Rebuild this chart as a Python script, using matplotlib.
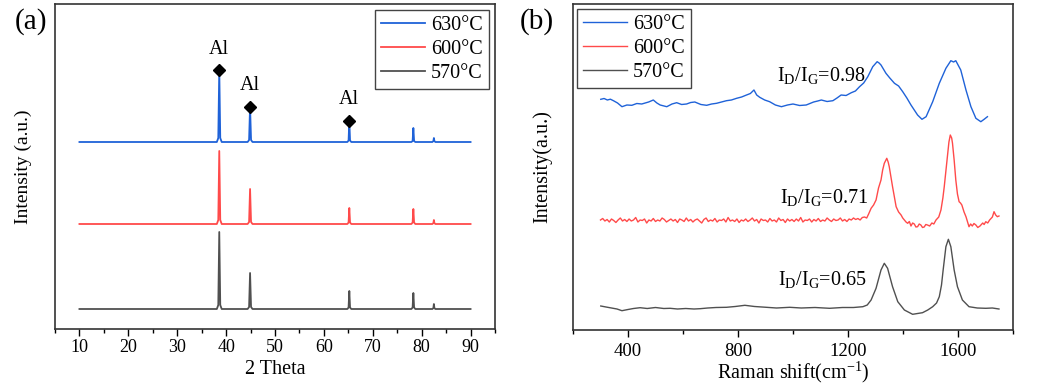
import matplotlib
matplotlib.use("Agg")
import matplotlib.pyplot as plt
from matplotlib.ticker import MultipleLocator

plt.rcParams['font.family'] = ['Liberation Serif', 'DejaVu Serif']
plt.rcParams['mathtext.fontset'] = 'custom'
plt.rcParams['mathtext.rm'] = 'Liberation Serif'
plt.rcParams['mathtext.it'] = 'Liberation Serif:italic'

## ---- (a) XRD patterns (offset intensities, a.u.) ----
xrd_theta = [10, 38.1, 38.4, 38.6, 38.8, 39.1, 44.4, 44.7, 44.9, 45.1, 45.4,
             64.8, 65.05, 65.2, 65.35, 65.6, 77.9, 78.15, 78.3, 78.45, 78.7,
             82.2, 82.4, 82.5, 82.6, 82.8, 90]
xrd_630 = [187, 187, 191, 259, 191, 187, 187, 189, 222, 189, 187,
           187, 188.5, 208, 188.5, 187, 187, 188, 201, 188, 187,
           187, 188, 191, 188, 187, 187]
xrd_600 = [105, 105, 109, 178, 109, 105, 105, 107, 140, 107, 105,
           105, 106.5, 121, 106.5, 105, 105, 106.5, 120, 106.5, 105,
           105, 106, 109, 106, 105, 105]
xrd_570 = [20, 20, 24, 97, 24, 20, 20, 22, 56, 22, 20,
           20, 21.5, 38, 21.5, 20, 20, 21.5, 36, 21.5, 20,
           20, 21, 25, 21, 20, 20]
al_theta = [38.6, 44.9, 65.2]
al_y = [259, 222, 208]

## ---- (b) Raman spectra (offset intensities, a.u.) ----
raman_630_x = [301, 313, 325, 336, 347, 362, 378, 396, 414, 432, 450, 475, 492, 505, 517,
               541, 560, 577, 595, 613, 628, 643, 665, 686, 704, 722, 740, 758, 776, 795,
               813, 831, 845, 858, 868, 879, 897, 915, 936, 958, 980, 1000, 1024, 1048,
               1075, 1090, 1103, 1124, 1145, 1160, 1175, 1193, 1212, 1227, 1242, 1257,
               1272, 1290, 1306, 1313, 1320, 1338, 1352, 1369, 1384, 1399, 1414, 1429,
               1453, 1469, 1484, 1508, 1532, 1556, 1574, 1584, 1592, 1610, 1629, 1647,
               1665, 1683, 1695, 1707]
raman_630_y = [230.7, 231.5, 230, 230.8, 229.3, 227, 223.3, 225, 224.7, 226.5, 226, 228,
               230, 227, 225, 223.3, 226, 227.3, 225.5, 226, 227.5, 228, 225.5, 224.7,
               226, 226.7, 228, 229.3, 230, 231.7, 233, 235, 236.5, 240, 235, 232.7, 230,
               228.3, 225, 223.3, 225, 226, 224.5, 225, 228, 229, 230, 228.5, 229.3,
               232, 235, 234.5, 237.3, 239, 243.3, 247, 253.3, 263.3, 268.3, 267, 265,
               256.7, 252, 246.7, 244, 238.3, 232, 225, 215, 210.7, 213.3, 228.3, 246.7,
               261.7, 269.3, 268, 269.3, 260, 240, 223.3, 211.7, 208.3, 210.7, 213.3]

raman_600_base_x = list(range(300, 1261, 8))
raman_600_base_y = [110, 111.5, 109, 110.5, 108, 111, 109.5, 107.5, 110, 112, 109,
                    110.5, 108.5, 111, 109, 110, 112.5, 108, 110, 109.5, 111, 107,
                    110, 109, 111.5, 108.5, 110, 109, 112, 110.5, 108, 109.5, 111,
                    109, 110.5, 107.5, 111, 110, 108.5, 112, 109, 110.5, 108, 110,
                    111, 109, 107, 110.5, 112, 108.5, 110, 109, 111.5, 108, 110,
                    109.5, 111, 108, 112.5, 109, 110, 108.5, 111, 107.5, 110, 109,
                    111, 108.5, 110, 112, 109, 110.5, 107, 111, 109.5, 110, 108,
                    111.5, 109, 110, 108, 112, 109.5, 110.5, 107.5, 111, 109, 110.5,
                    108.5, 111, 109, 112.5, 108, 110, 109.5, 111, 108, 110.5, 109,
                    111.5, 108.5, 110, 109, 112, 110, 108.5, 111, 109.5, 110, 112,
                    109, 110.5, 108.5, 111, 110, 112, 110.5, 111.5, 110, 112.5, 113]
raman_600_peak_x = [1268, 1275, 1284, 1293, 1302, 1311, 1320, 1326, 1332, 1341, 1346, 1350,
                    1362, 1375, 1384, 1393, 1399, 1405, 1411, 1417, 1423, 1429, 1435, 1441,
                    1447, 1453, 1459, 1465, 1471, 1477, 1483, 1489, 1497, 1505, 1512, 1520,
                    1530, 1538, 1545, 1550, 1560, 1567, 1572, 1577, 1580, 1586, 1592, 1598,
                    1604, 1609, 1614, 1622, 1629, 1640, 1646, 1652, 1658, 1665, 1672, 1680,
                    1690, 1695, 1701, 1708, 1715, 1725, 1731, 1737, 1743, 1749]
raman_600_peak_y = [112, 116, 121.7, 125, 130, 142, 150, 160, 166.7, 171.7, 168, 163.3,
                    143.3, 123.3, 118, 115, 112, 110, 108, 106.7, 108.5, 104, 107, 106,
                    103, 103.3, 106, 105, 102.5, 103, 105.5, 105, 104, 107, 106, 110,
                    113, 120, 132, 143.3, 170, 188, 195, 192, 186.7, 170, 150, 136,
                    128.3, 127, 125, 118, 113.3, 103.3, 106, 104, 106.5, 105, 102.5, 104,
                    107, 105.5, 108.3, 107, 110, 113, 118.3, 115, 113.3, 114]
raman_600_x = raman_600_base_x + raman_600_peak_x
raman_600_y = raman_600_base_y + raman_600_peak_y

raman_570_x = [301, 320, 340, 360, 378, 400, 420, 444, 470, 500, 530, 553, 580, 610,
               640, 662, 690, 720, 758, 790, 825, 860, 903, 940, 988, 1030, 1080, 1133,
               1180, 1220, 1254, 1270, 1284, 1302, 1320, 1332, 1344, 1362, 1381, 1405,
               1435, 1471, 1490, 1508, 1522, 1532, 1540, 1546, 1556, 1565, 1574, 1586,
               1598, 1616, 1640, 1670, 1701, 1725, 1749]
raman_570_y = [24, 23, 22, 21, 19.3, 20.5, 21.5, 22.3, 21.5, 22.5, 21.5, 21.7, 21, 21.5,
               21, 21.3, 22, 22.5, 22.7, 23.5, 24.7, 23.5, 22.7, 22, 22.7, 22, 22.5, 21.7,
               22.5, 22.5, 23.3, 25, 30, 41.7, 60, 66.7, 61.7, 43.3, 28.3, 20,
               15.7, 17.3, 20, 23.3, 27, 33.3, 45, 60, 83.3, 90.7, 83.3, 60,
               43.3, 30, 23.3, 22, 21.7, 22, 21]

labels = ["630°C", "600°C", "570°C"]
ratio_text = [r"I$_\mathrm{D}$/I$_\mathrm{G}$=0.98",
              r"I$_\mathrm{D}$/I$_\mathrm{G}$=0.71",
              r"I$_\mathrm{D}$/I$_\mathrm{G}$=0.65"]
ratio_pos = [(1262, 255), (1272, 133), (1267, 50)]

colors = ["#1f62d8", "#ff4a4a", "#505050"]

fig = plt.figure(figsize=(10.49, 3.88), dpi=100)
ax1 = fig.add_axes([55/1049, 59/388, 440/1049, 325/388])
ax2 = fig.add_axes([573/1049, 58/388, 440/1049, 326/388])

# (a) XRD
for ys, c, lab in zip([xrd_630, xrd_600, xrd_570], colors, labels):
    ax1.plot(xrd_theta, ys, color=c, lw=1.3, label=lab)
ax1.plot(al_theta, al_y, "D", color="k", ms=6)
for x, y in zip(al_theta, al_y):
    ax1.text(x, y + 21, "Al", ha="center", va="center", fontsize=14.5)
ax1.set_xlim(5, 95)
ax1.set_ylim(0, 325)
ax1.xaxis.set_major_locator(MultipleLocator(10))
ax1.xaxis.set_minor_locator(MultipleLocator(5))
ax1.set_xlabel("2 Theta", fontsize=14.5, labelpad=3)
ax1.set_ylabel("Intensity (a.u.)", fontsize=14)
ax1.yaxis.set_label_coords(-0.052, 0.5)
ax1.tick_params(axis="x", labelsize=13, pad=2)
ax1.legend(loc="upper right", bbox_to_anchor=(0.986, 0.982), borderaxespad=0,
           fontsize=14.5, handlelength=2.2, handletextpad=0.3, labelspacing=0.25,
           borderpad=0.3, fancybox=False, edgecolor="#444444", framealpha=1)

# (b) Raman
for xs, ys, c, lab in zip([raman_630_x, raman_600_x, raman_570_x],
                          [raman_630_y, raman_600_y, raman_570_y], colors, labels):
    ax2.plot(xs, ys, color=c, lw=1.0, label=lab)
for t, (x, y) in zip(ratio_text, ratio_pos):
    ax2.text(x, y, t, ha="right", va="center", fontsize=14.5)
ax2.set_xlim(200, 1800)
ax2.set_ylim(0, 326)
ax2.xaxis.set_major_locator(MultipleLocator(400))
ax2.xaxis.set_minor_locator(MultipleLocator(200))
ax2.set_xlabel("Raman shift(cm$^{-1}$)", fontsize=14.5, labelpad=0)
ax2.set_ylabel("Intensity(a.u.)", fontsize=14.5)
ax2.yaxis.set_label_coords(-0.048, 0.5)
ax2.tick_params(axis="x", labelsize=13.5, pad=4)
ax2.legend(loc="upper left", bbox_to_anchor=(0.008, 0.985), borderaxespad=0,
           fontsize=14.5, handlelength=2.2, handletextpad=0.3, labelspacing=0.25,
           borderpad=0.3, fancybox=False, edgecolor="#444444", framealpha=1)

for ax in (ax1, ax2):
    ax.set_yticks([])
    ax.tick_params(axis="x", which="major", direction="out", length=5, width=1)
    ax.tick_params(axis="x", which="minor", direction="out", length=3, width=1)
    for s in ax.spines.values():
        s.set_linewidth(1.2)
        s.set_color("#333333")

fig.text(31/1049, 1 - 22/388, "(a)", fontsize=21, ha="center", va="center")
fig.text(537/1049, 1 - 22/388, "(b)", fontsize=21, ha="center", va="center")

fig.savefig("out.png", dpi=100)
